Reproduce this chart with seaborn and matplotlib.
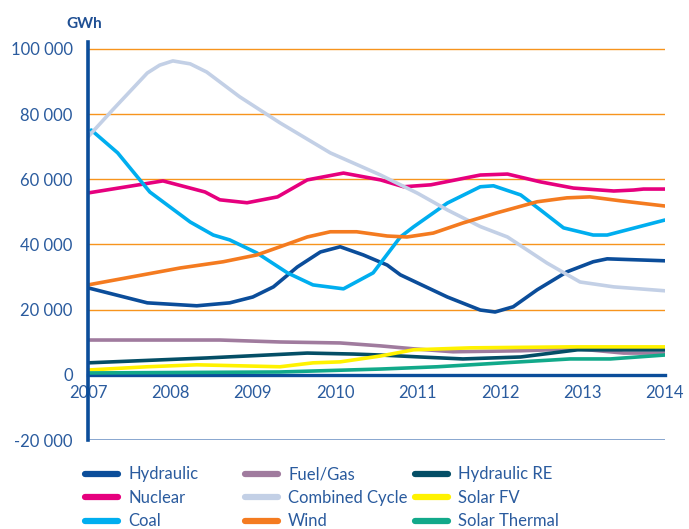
import pandas as pd
import matplotlib.pyplot as plt
import seaborn as sns

# Datos (GWh)
hydraulic_x = [2007, 2007.72, 2008.32, 2008.72, 2009.0, 2009.25, 2009.54, 2009.82, 2010.06, 2010.34, 2010.63, 2010.79, 2011.36, 2011.76, 2011.94, 2012.16, 2012.45, 2012.81, 2013.13, 2013.3, 2014]
hydraulic_y = [26700, 22100, 21200, 22100, 23900, 27000, 33100, 37700, 39300, 36800, 33700, 30700, 23900, 19900, 19300, 20900, 26100, 31600, 34700, 35600, 35000]

nuclear_x = [2007, 2007.91, 2008.42, 2008.6, 2008.93, 2009.3, 2009.66, 2010.1, 2010.55, 2010.83, 2011.16, 2011.76, 2012.09, 2012.49, 2012.89, 2013.38, 2013.62, 2013.74, 2014]
nuclear_y = [55800, 59500, 56100, 53700, 52800, 54600, 59800, 61900, 59800, 57700, 58300, 61300, 61600, 59200, 57300, 56400, 56700, 57000, 57000]

coal_x = [2007.04, 2007.36, 2007.75, 2008.24, 2008.52, 2008.72, 2009.05, 2009.42, 2009.73, 2010.1, 2010.46, 2010.79, 2010.95, 2011.36, 2011.76, 2011.92, 2012.25, 2012.49, 2012.77, 2013.13, 2013.3, 2014]
coal_y = [75100, 68100, 56100, 46900, 42900, 41400, 37400, 31300, 27600, 26400, 31300, 42300, 45400, 52700, 57700, 58000, 55200, 50600, 45100, 42900, 42900, 47500]

fuel_x = [2007, 2008.6, 2009.33, 2010.06, 2010.55, 2010.95, 2011.43, 2012.25, 2012.94, 2013.5, 2014]
fuel_y = [10700, 10700, 10100, 9800, 8900, 8000, 7100, 7400, 8000, 6700, 6700]

combined_x = [2007, 2007.3, 2007.72, 2007.87, 2008.03, 2008.24, 2008.44, 2008.84, 2009.33, 2009.94, 2010.55, 2011.0, 2011.36, 2011.76, 2012.09, 2012.57, 2012.97, 2013.38, 2014]
combined_y = [73000, 81300, 92600, 95000, 96300, 95400, 92900, 85300, 77300, 68100, 61300, 55700, 50600, 45500, 42300, 34300, 28500, 27000, 25800]

wind_x = [2007, 2008.12, 2008.64, 2009.05, 2009.33, 2009.66, 2009.94, 2010.26, 2010.63, 2010.87, 2011.19, 2011.55, 2011.96, 2012.45, 2012.81, 2013.09, 2013.46, 2014]
wind_y = [27600, 32800, 34700, 36800, 39300, 42300, 43900, 43900, 42600, 42300, 43500, 46600, 49700, 53100, 54300, 54600, 53400, 51800]

hydro_re_x = [2007, 2008.44, 2009.66, 2010.22, 2010.55, 2011.03, 2011.55, 2012.25, 2012.94, 2013.46, 2014]
hydro_re_y = [3700, 5200, 6700, 6400, 6100, 5500, 4900, 5500, 7700, 7700, 7700]

solar_fv_x = [2007, 2007.72, 2008.32, 2009.33, 2009.73, 2010.06, 2010.55, 2010.95, 2011.64, 2012.85, 2014]
solar_fv_y = [1500, 2500, 3100, 2500, 3700, 4000, 5800, 7700, 8300, 8600, 8600]

solar_th_x = [2007, 2009.33, 2010.55, 2011.24, 2012.04, 2012.85, 2013.34, 2014]
solar_th_y = [600, 900, 1800, 2500, 3700, 4900, 4900, 6100]

series = [
    ('Hydraulic', hydraulic_x, hydraulic_y, '#0b4d9a'),
    ('Nuclear', nuclear_x, nuclear_y, '#e6007e'),
    ('Coal', coal_x, coal_y, '#00aeef'),
    ('Fuel/Gas', fuel_x, fuel_y, '#a07b9e'),
    ('Combined Cycle', combined_x, combined_y, '#c3d0e6'),
    ('Wind', wind_x, wind_y, '#f47b20'),
    ('Hydraulic RE', hydro_re_x, hydro_re_y, '#044e66'),
    ('Solar FV', solar_fv_x, solar_fv_y, '#fff200'),
    ('Solar Thermal', solar_th_x, solar_th_y, '#12a98a'),
]

frames = []
for name, xs, ys, _ in series:
    frames.append(pd.DataFrame({'year': xs, 'gwh': ys, 'source': name}))
df = pd.concat(frames, ignore_index=True)
palette = {name: c for name, _, _, c in series}
order = [s[0] for s in series]

sns.set_style('white')
plt.rcParams['font.family'] = ['Lato', 'DejaVu Sans']

txt = '#2a5b9e'
fig = plt.figure(figsize=(6.89, 5.29), dpi=100)
ax = fig.add_axes([0.1277, 0.168, 0.8373, 0.752])

sns.lineplot(data=df, x='year', y='gwh', hue='source', hue_order=order,
             palette=palette, linewidth=2.6, ax=ax, sort=False, estimator=None)

handles, labels = ax.get_legend_handles_labels()
ax.get_legend().remove()

ax.set_xlim(2007, 2014)
ax.set_ylim(-20000, 102000)
ax.set_yticks(range(-20000, 100001, 20000))
ax.set_yticklabels(['-20 000', '0', '20 000', '40 000', '60 000', '80 000', '100 000'])
ax.set_xticks(range(2007, 2015))
ax.set_xlabel('')
ax.set_ylabel('')

# rejilla naranja
for v in range(20000, 100001, 20000):
    ax.axhline(v, color='#f7941d', lw=1.0, zorder=0)
ax.axhline(-20000, color='#7f9fcc', lw=1.3, zorder=0)

for s in ['top', 'right']:
    ax.spines[s].set_visible(False)
ax.spines['left'].set_color('#0b4d9a')
ax.spines['left'].set_linewidth(2.6)
ax.spines['bottom'].set_position(('data', 0))
ax.spines['bottom'].set_color('#0b4d9a')
ax.spines['bottom'].set_linewidth(2.4)
ax.spines['bottom'].set_zorder(1)

ax.tick_params(axis='y', length=8, width=1.0, color='#f7941d', labelcolor=txt, labelsize=12, pad=3)
ax.tick_params(axis='x', length=7, width=2.4, color='#0b4d9a', labelcolor=txt, labelsize=12, pad=0, direction='out')

fig.text(0.097, 0.948, 'GWh', color='#1f4f93', fontsize=11, fontweight='bold')

for h in handles:
    h.set_linewidth(4.5)

# leyenda en tres columnas separadas
lefts = [0.1135, 0.3457, 0.592]
for i, left in enumerate(lefts):
    leg = fig.legend(handles[i*3:(i+1)*3], labels[i*3:(i+1)*3], loc='upper left',
                     bbox_to_anchor=(left, 0.131), borderaxespad=0, frameon=False,
                     fontsize=12, labelcolor=txt, handlelength=2.0,
                     handletextpad=0.6, labelspacing=0.45)

plt.savefig('out.png', dpi=100)
